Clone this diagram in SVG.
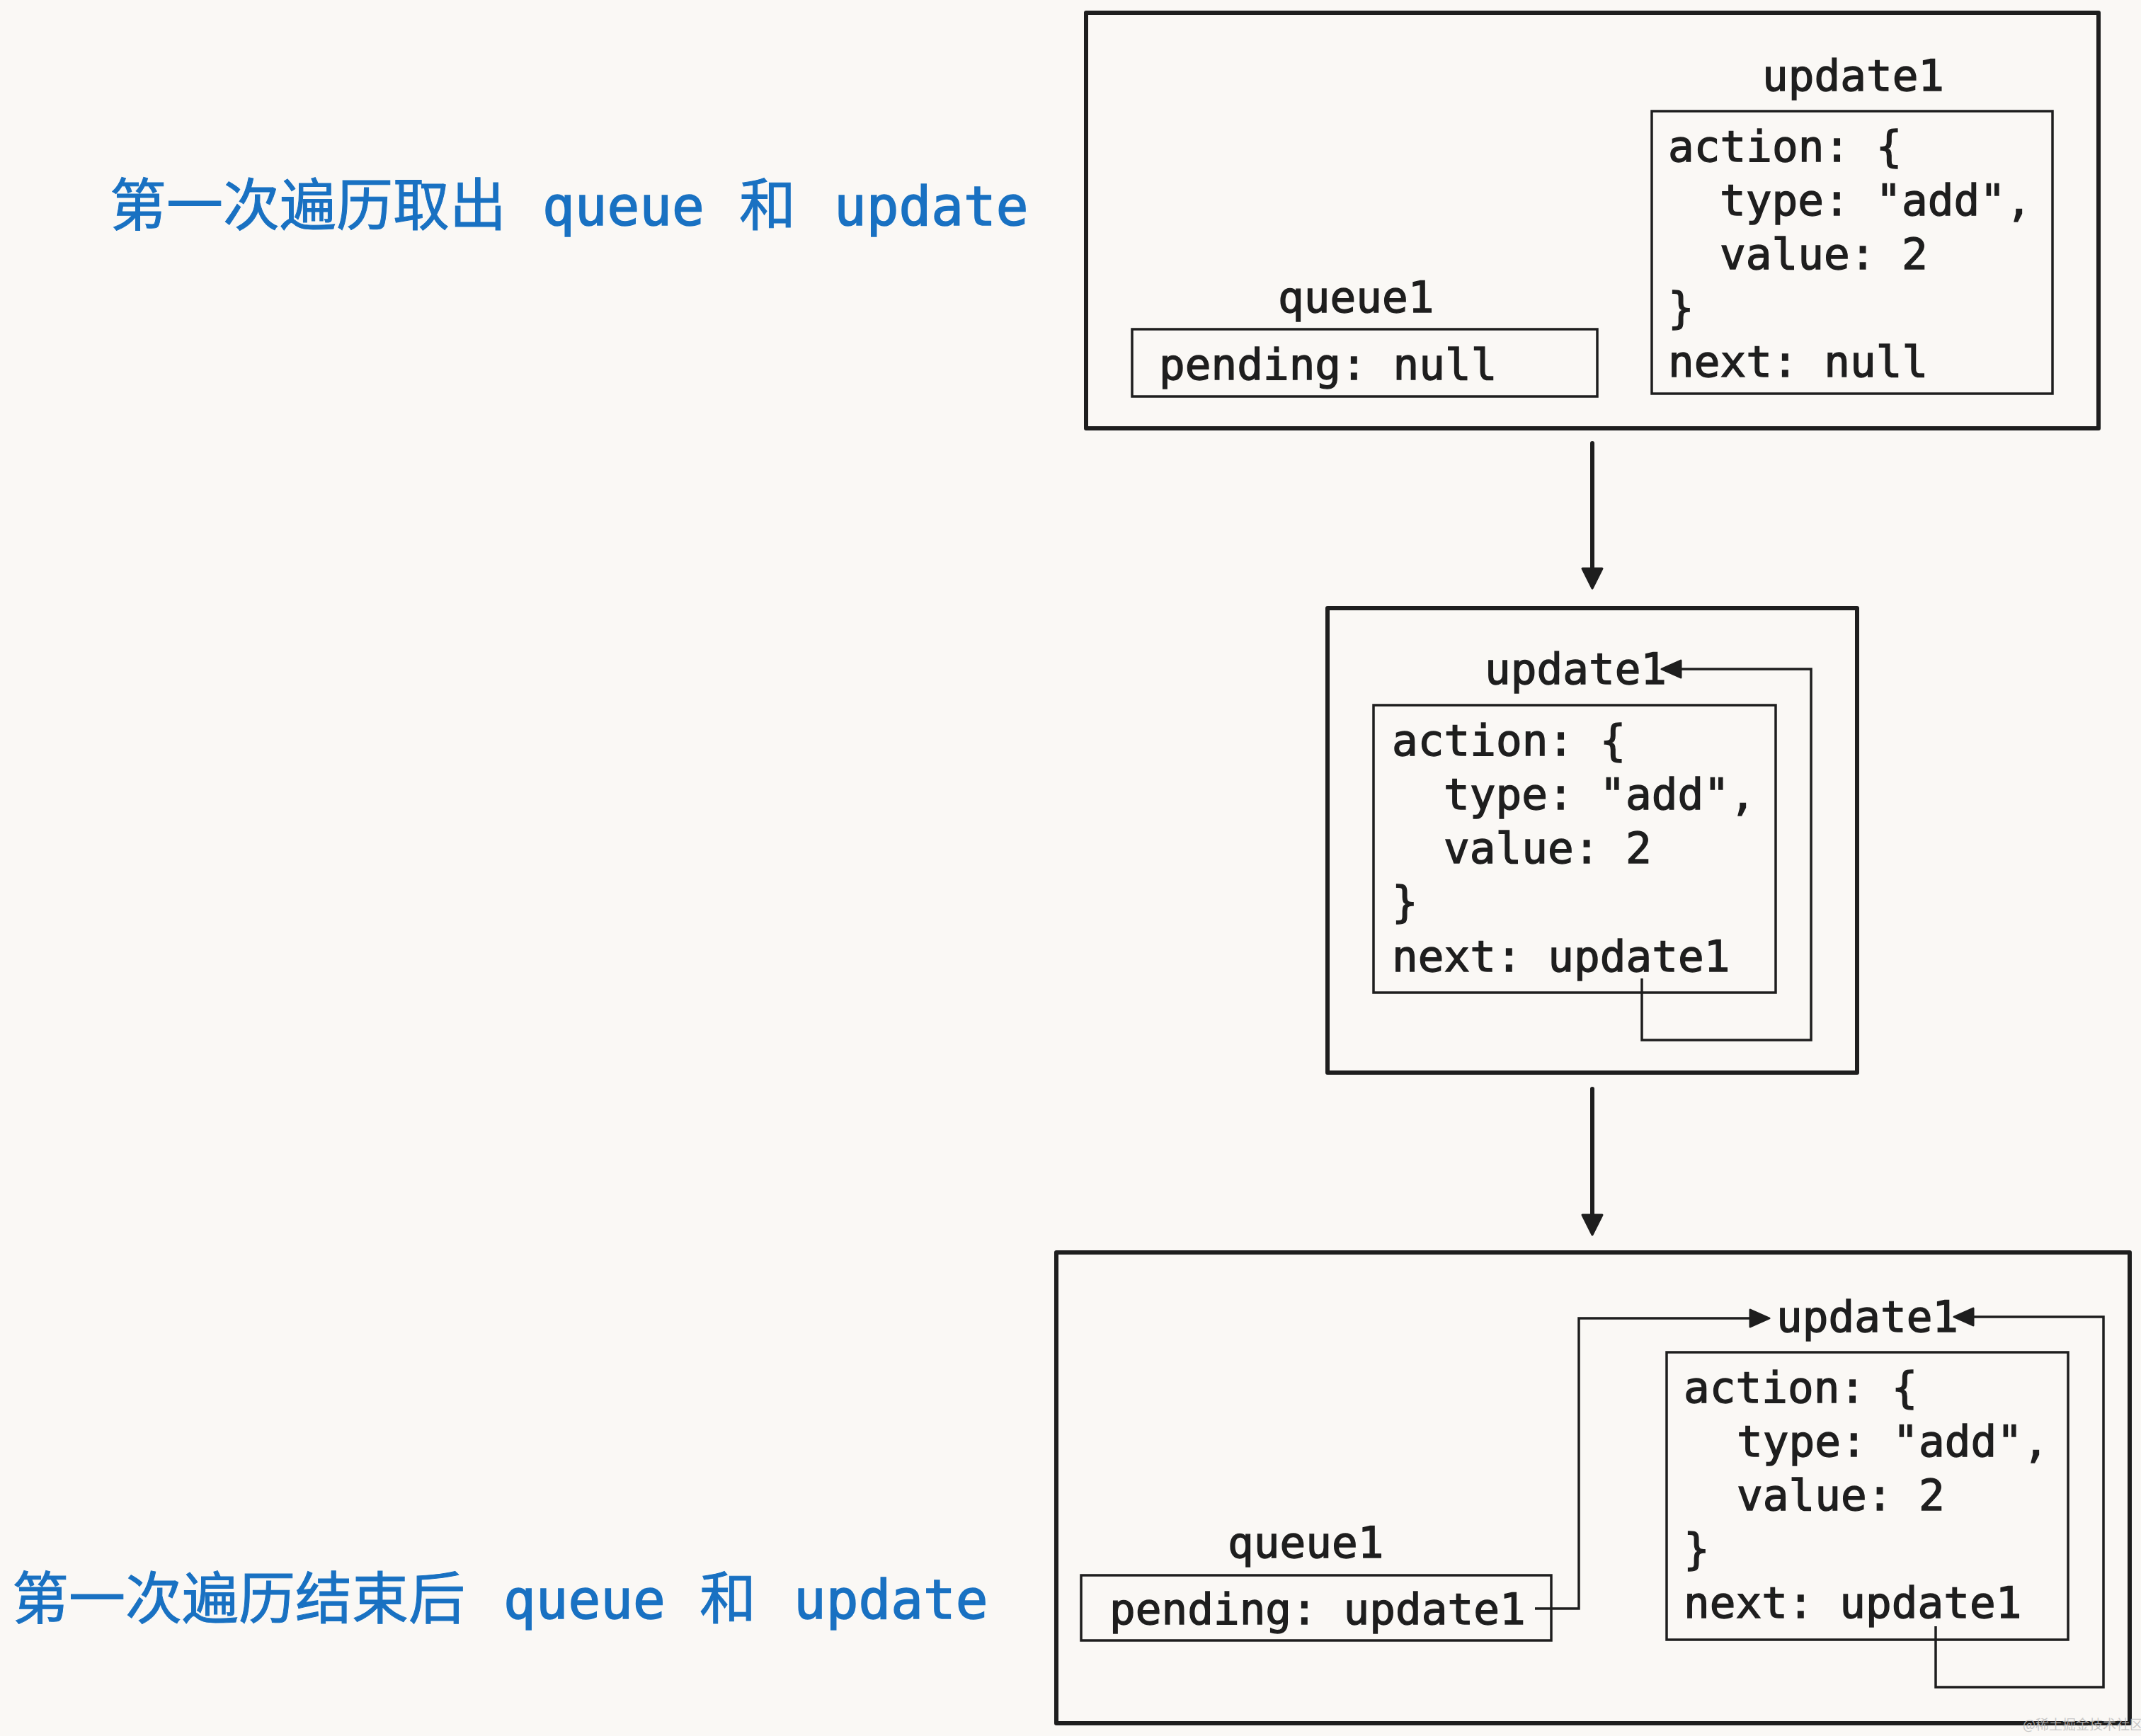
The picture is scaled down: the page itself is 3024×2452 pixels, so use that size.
<svg xmlns="http://www.w3.org/2000/svg" width="3024" height="2452" viewBox="0 0 3024 2452">
<style>
.frame{fill:none;stroke:#1e1e1e;stroke-width:6;stroke-linejoin:round}
.box{fill:none;stroke:#1e1e1e;stroke-width:3.5}
.code{font-family:"DejaVu Sans Mono","Liberation Mono",monospace;font-size:61px;fill:#1e1e1e;stroke:#1e1e1e;stroke-width:1.4}
.lbl{font-family:"DejaVu Sans Mono","Noto Sans CJK SC",monospace;font-size:76px;fill:#1971c2;stroke:#1971c2;stroke-width:1.6}
.cjk{font-family:"Noto Sans CJK SC",sans-serif;font-size:80px;stroke-width:1}
.conn{fill:none;stroke:#1e1e1e;stroke-width:3.5}
.big{fill:none;stroke:#1e1e1e;stroke-width:6;stroke-linecap:round}
.head{fill:#1e1e1e;stroke:#1e1e1e;stroke-width:3;stroke-linejoin:round}
.wm{font-family:"Noto Sans CJK SC",sans-serif;font-size:19px;fill:#bdbdbd;opacity:0.8}
</style>
<rect x="0" y="0" width="3024" height="2452" fill="#faf8f5"/>

<g id="label-top">
<text class="lbl" y="318"><tspan class="cjk" x="155">第一次遍历取出</tspan><tspan x="766">queue</tspan><tspan class="cjk" x="1044">和</tspan><tspan x="1178">update</tspan></text>
</g>
<g id="label-bottom">
<text class="lbl" y="2286"><tspan class="cjk" x="17">第一次遍历结束后</tspan><tspan x="711">queue</tspan><tspan class="cjk" x="988">和</tspan><tspan x="1121">update</tspan></text>
</g>

<g id="state1">
<rect class="frame" x="1534" y="18" width="1430" height="587"/>
<g id="state1-queue1">
<text class="code" x="1805" y="441">queue1</text>
<rect class="box" x="1599" y="465" width="657" height="95"/>
<text class="code" x="1637" y="536">pending: null</text>
</g>
<g id="state1-update1">
<text class="code" x="2489" y="128">update1</text>
<rect class="box" x="2333" y="157" width="566" height="399"/>
<text class="code" x="2356" y="228">action: {</text>
<text class="code" x="2429" y="304">type: "add",</text>
<text class="code" x="2429" y="380">value: 2</text>
<text class="code" x="2356" y="456">}</text>
<text class="code" x="2356" y="532">next: null</text>
</g>
</g>

<g id="state2">
<rect class="frame" x="1875" y="859" width="748" height="656"/>
<g id="state2-update1">
<text class="code" x="2097" y="966">update1</text>
<rect class="box" x="1940" y="996" width="568" height="406"/>
<text class="code" x="1966" y="1067">action: {</text>
<text class="code" x="2039" y="1143">type: "add",</text>
<text class="code" x="2039" y="1219">value: 2</text>
<text class="code" x="1966" y="1295">}</text>
<text class="code" x="1966" y="1372">next: update1</text>
</g>
</g>

<g id="state3">
<rect class="frame" x="1492" y="1769" width="1516" height="665"/>
<g id="state3-queue1">
<text class="code" x="1734" y="2200">queue1</text>
<rect class="box" x="1527" y="2225" width="664" height="92"/>
<text class="code" x="1567" y="2294">pending: update1</text>
</g>
<g id="state3-update1">
<text class="code" x="2509" y="1881">update1</text>
<rect class="box" x="2354" y="1910" width="567" height="406"/>
<text class="code" x="2378" y="1981">action: {</text>
<text class="code" x="2453" y="2057">type: "add",</text>
<text class="code" x="2453" y="2133">value: 2</text>
<text class="code" x="2378" y="2209">}</text>
<text class="code" x="2378" y="2285">next: update1</text>
</g>
</g>

<g id="connectors">
<line class="big" x1="2249" y1="626" x2="2249" y2="806"/>
<polygon class="head" points="2249,831 2235,803 2263,803"/>
<line class="big" x1="2249" y1="1538" x2="2249" y2="1718"/>
<polygon class="head" points="2249,1744 2235,1716 2263,1716"/>
<path class="conn" d="M2319,1382 V1469 H2558 V945 H2372"/>
<polygon class="head" points="2347,945 2374,933 2374,957"/>
<path class="conn" d="M2168,2272 H2230 V1862 H2474"/>
<polygon class="head" points="2499,1862 2472,1850 2472,1874"/>
<path class="conn" d="M2734,2297 V2383 H2971 V1860 H2785"/>
<polygon class="head" points="2760,1860 2787,1848 2787,1872"/>
</g>

<text class="wm" x="2857" y="2443">@稀土掘金技术社区</text>
</svg>
